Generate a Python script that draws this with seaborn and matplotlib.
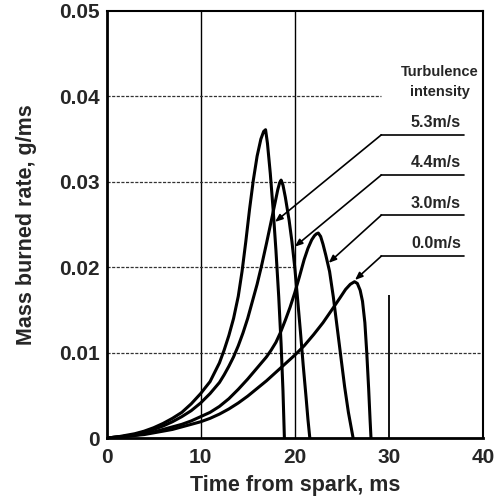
import matplotlib
matplotlib.use("Agg")
import matplotlib.pyplot as plt
import seaborn as sns
import pandas as pd

# Mass burned rate (g/ms) against time from spark (ms) for four turbulence intensities
intensities = ["5.3m/s", "4.4m/s", "3.0m/s", "0.0m/s"]

t_53 = [0, 1, 2, 3, 4, 5, 6, 7, 8, 9, 10, 11, 12, 12.5, 13, 13.5, 14, 14.4, 14.8,
        15.2, 15.6, 16.0, 16.4, 16.7, 16.9,
        17.1, 17.4, 17.7, 18.0, 18.3, 18.55, 18.75, 18.9]
r_53 = [0, 0.0001, 0.0003, 0.0005, 0.0008, 0.0012, 0.0017, 0.0023, 0.0030, 0.0040,
        0.0052, 0.0066, 0.0088, 0.0103, 0.0120, 0.0140, 0.0166, 0.0195, 0.0230,
        0.0268, 0.0302, 0.0330, 0.0350, 0.0359, 0.0361,
        0.0345, 0.0310, 0.0268, 0.0220, 0.0165, 0.0110, 0.0055, 0]

t_44 = [0, 1, 2, 3, 4, 5, 6, 7, 8, 9, 10, 11, 12, 12.5, 13, 13.5, 14, 14.5, 15, 15.5,
        16, 16.5, 17, 17.5, 17.9, 18.2, 18.4, 18.55,
        18.75, 19.0, 19.4, 19.7, 20.0, 20.3, 20.6, 20.9, 21.2, 21.4, 21.6]
r_44 = [0, 0.0001, 0.0002, 0.0004, 0.0007, 0.0010, 0.0014, 0.0019, 0.0025, 0.0032,
        0.0041, 0.0052, 0.0065, 0.0074, 0.0084, 0.0095, 0.0108, 0.0123, 0.0140, 0.0160,
        0.0180, 0.0203, 0.0228, 0.0254, 0.0275, 0.0291, 0.0299, 0.0302,
        0.0296, 0.0282, 0.0255, 0.0230, 0.0200, 0.0163, 0.0125, 0.0085, 0.0048, 0.0022, 0]

t_30 = [0, 1, 2, 3, 4, 5, 6, 7, 8, 9, 10, 11, 12, 13, 14, 15, 16, 17, 17.5, 18, 18.5,
        19, 19.5, 20, 20.5, 21, 21.4, 21.8, 22.1, 22.3, 22.5,
        22.75, 23.0, 23.3, 23.7, 24.1, 24.5, 24.9, 25.3, 25.7, 26.0, 26.2]
r_30 = [0, 0.0001, 0.0002, 0.0003, 0.0005, 0.0007, 0.0010, 0.0013, 0.0016, 0.0020,
        0.0025, 0.0030, 0.0037, 0.0046, 0.0057, 0.0069, 0.0082, 0.0095, 0.0103, 0.0112,
        0.0124, 0.0138, 0.0153, 0.0170, 0.0189, 0.0209, 0.0222, 0.0232, 0.0237, 0.0239,
        0.0240, 0.0236, 0.0227, 0.0214, 0.0195, 0.0165, 0.0130, 0.0095, 0.0060, 0.0030,
        0.0012, 0]

t_00 = [0, 1, 2, 3, 4, 5, 6, 7, 8, 9, 10, 11, 12, 13, 14, 15, 16, 17, 18, 19, 20, 21,
        22, 23, 24, 24.8, 25.4, 25.9, 26.35,
        26.65, 26.95, 27.2, 27.45, 27.65, 27.85, 28.0, 28.1]
r_00 = [0, 0.0001, 0.0002, 0.0003, 0.0004, 0.0006, 0.0008, 0.0010, 0.0013, 0.0016,
        0.0019, 0.0023, 0.0028, 0.0034, 0.0041, 0.0049, 0.0058, 0.0067, 0.0077, 0.0087,
        0.0097, 0.0108, 0.0121, 0.0135, 0.0151, 0.0164, 0.0174, 0.0180, 0.0183,
        0.0181, 0.0173, 0.0160, 0.0135, 0.0100, 0.0058, 0.0022, 0]

# Leader lines: horizontal shelf under each label and the curve point it points at
shelf_y = [0.0355, 0.0308, 0.0261, 0.0213]
shelf_x0, shelf_x1 = 29.2, 38.0
target_t = [17.9, 20.0, 23.6, 26.4]
target_r = [0.0253, 0.0224, 0.0205, 0.0185]
label_y = [0.0370, 0.0323, 0.0275, 0.0228]

x_ticks = [0, 10, 20, 30, 40]
y_ticks = [0, 0.01, 0.02, 0.03, 0.04, 0.05]
y_tick_labels = ["0", "0.01", "0.02", "0.03", "0.04", "0.05"]

frames = []
for name, t, r in zip(intensities, [t_53, t_44, t_30, t_00], [r_53, r_44, r_30, r_00]):
    frames.append(pd.DataFrame({"time": t, "rate": r, "intensity": name}))
df = pd.concat(frames, ignore_index=True)

sns.set_style("white")
plt.rcParams["font.family"] = ["Liberation Sans", "DejaVu Sans"]

W, H = 498, 499
fig = plt.figure(figsize=(W / 100, H / 100), dpi=100)
ax = fig.add_axes([106.5 / W, 1 - 438 / H, (483 - 106.5) / W, (438 - 11) / H])

# partial grid
ax.vlines([10, 20], 0, 0.05, color="black", lw=1.0, zorder=1)
ax.vlines(30, 0, 0.0168, color="black", lw=1.3, zorder=1)
for gy, gx in zip([0.04, 0.03, 0.02, 0.01], [29.2, 20.0, 20.0, 40.0]):
    ax.hlines(gy, 0, gx, color="#333333", lw=0.9, linestyles=(0, (2.5, 1.2)), zorder=1)

sns.lineplot(data=df, x="time", y="rate", hue="intensity", palette=["black"] * 4,
             sort=False, estimator=None, legend=False, linewidth=2.2, ax=ax, zorder=3,
             solid_joinstyle="round")

for sy, tt, tr, ly, name in zip(shelf_y, target_t, target_r, label_y, intensities):
    ax.plot([shelf_x0, shelf_x1], [sy, sy], color="black", lw=1.2, zorder=2)
    ax.annotate("", xy=(tt, tr), xytext=(shelf_x0, sy),
                arrowprops=dict(arrowstyle="-|>,head_length=0.45,head_width=0.18",
                                color="black", lw=1.2, shrinkA=0, shrinkB=0), zorder=2)
    ax.text(35.0, ly, name, ha="center", va="center", fontsize=11.5, fontweight="bold")

ax.text(35.4, 0.0429, "Turbulence", ha="center", va="center", fontsize=10.5, fontweight="bold")
ax.text(35.4, 0.0405, "intensity", ha="center", va="center", fontsize=10.5, fontweight="bold")

ax.set_xlim(0, 40)
ax.set_ylim(0, 0.05)
ax.set_xticks(x_ticks)
ax.set_xticklabels([str(v) for v in x_ticks], fontsize=15, fontweight="bold")
ax.set_yticks(y_ticks)
ax.set_yticklabels(y_tick_labels, fontsize=15, fontweight="bold")
ax.tick_params(axis="both", direction="out", length=4, width=1.5, color="black", pad=1)
ax.tick_params(axis="x", pad=3)

for side, lw in zip(["left", "bottom", "top", "right"], [2.0, 2.0, 1.5, 1.5]):
    ax.spines[side].set_visible(True)
    ax.spines[side].set_color("black")
    ax.spines[side].set_linewidth(lw)

ax.set_xlabel("Time from spark, ms", fontsize=15.5, fontweight="bold", labelpad=6)
ax.set_ylabel("Mass burned rate, g/ms", fontsize=15.5, fontweight="bold", labelpad=16)

fig.savefig("out.png", dpi=100)
